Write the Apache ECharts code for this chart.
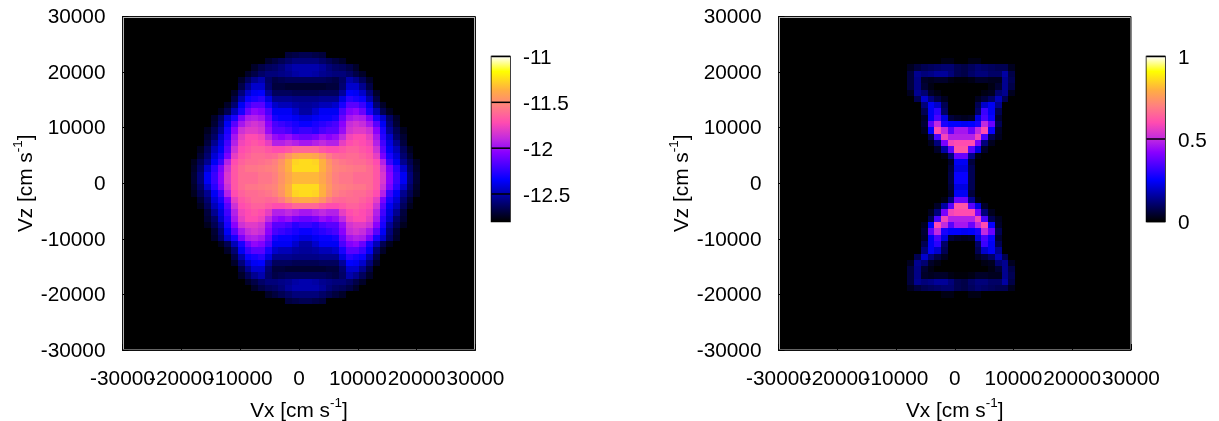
<!DOCTYPE html>
<html><head><meta charset="utf-8">
<style>html,body{margin:0;padding:0;background:#fff}#c{width:1219px;height:421px}</style>
<script src="https://cdn.jsdelivr.net/npm/echarts@6/dist/echarts.min.js"></script>
</head><body><div id="c"></div>
<script>
// phase-space cells, in percent of each colour-bar range
const levelsLeft = [
[0,0,0,0,0,0,0,0,0,0,0,0,0,0,6,7,8,8,7,6,0,0,0,0,0,0,0,0,0,0,0,0,0,0],
[0,0,0,0,0,0,0,0,0,0,0,4,6,8,10,12,12,12,12,10,8,6,4,0,0,0,0,0,0,0,0,0,0,0],
[0,0,0,0,0,0,0,0,0,4,7,9,10,12,15,17,17,17,17,15,12,10,9,7,4,0,0,0,0,0,0,0,0,0],
[0,0,0,0,0,0,0,0,4,7,10,12,12,13,14,16,17,17,16,14,13,12,12,10,7,4,0,0,0,0,0,0,0,0],
[0,0,0,0,0,0,0,4,9,14,17,10,7,8,9,9,9,9,9,9,8,7,10,17,14,9,4,0,0,0,0,0,0,0],
[0,0,0,0,0,0,0,7,14,20,20,11,6,6,5,5,5,5,5,5,6,6,11,20,20,14,7,0,0,0,0,0,0,0],
[0,0,0,0,0,0,4,12,20,24,25,15,9,9,9,8,8,8,8,9,9,9,15,25,24,20,12,4,0,0,0,0,0,0],
[0,0,0,0,0,0,7,17,26,28,30,22,14,14,14,13,13,13,13,14,14,14,22,30,28,26,17,7,0,0,0,0,0,0],
[0,0,0,0,0,4,11,24,32,36,36,28,20,18,18,16,15,15,16,18,18,20,28,36,36,32,24,11,4,0,0,0,0,0],
[0,0,0,0,3,8,18,28,38,43,41,34,24,24,24,20,16,16,20,24,24,24,34,41,43,38,28,18,8,3,0,0,0,0],
[0,0,0,4,10,20,28,40,47,48,46,38,28,26,26,24,22,22,24,26,26,28,38,46,48,47,40,28,20,10,4,0,0,0],
[0,0,0,5,12,24,36,46,51,53,51,42,34,32,30,28,26,26,28,30,32,34,42,51,53,51,46,36,24,12,5,0,0,0],
[0,0,3,8,15,28,42,52,55,55,53,44,36,36,34,30,32,32,30,34,36,36,44,53,55,55,52,42,28,15,8,3,0,0],
[0,0,5,10,20,30,46,56,60,60,58,50,44,42,44,40,38,38,40,44,42,44,50,58,60,60,56,46,30,20,10,5,0,0],
[0,0,6,14,22,33,48,58,60,62,60,56,48,48,50,48,46,46,48,50,48,48,56,60,62,60,58,48,33,22,14,6,0,0],
[0,3,9,18,24,36,52,60,62,64,64,62,60,60,62,65,65,65,65,62,60,60,62,64,64,62,60,52,36,24,18,9,3,0],
[0,5,11,21,28,40,56,62,64,66,66,65,66,69,74,78,79,79,78,74,69,66,65,66,66,64,62,56,40,28,21,11,5,0],
[3,8,14,24,32,48,60,64,66,66,67,68,70,74,80,85,86,86,85,80,74,70,68,67,66,66,64,60,48,32,24,14,8,3],
[4,10,20,30,40,52,62,66,68,68,69,70,71,75,80,86,86,86,86,80,75,71,70,69,68,68,66,62,52,40,30,20,10,4],
[5,12,24,32,42,54,62,66,66,66,68,68,70,74,78,81,81,81,81,78,74,70,68,68,66,66,66,62,54,42,32,24,12,5],
[5,12,24,32,42,54,62,66,66,66,68,68,70,74,78,81,81,81,81,78,74,70,68,68,66,66,66,62,54,42,32,24,12,5],
[4,10,20,30,40,52,62,66,68,68,69,70,71,75,80,86,86,86,86,80,75,71,70,69,68,68,66,62,52,40,30,20,10,4],
[3,8,14,24,32,48,60,64,66,66,67,68,70,74,80,85,86,86,85,80,74,70,68,67,66,66,64,60,48,32,24,14,8,3],
[0,5,11,21,28,40,56,62,64,66,66,65,66,69,74,78,79,79,78,74,69,66,65,66,66,64,62,56,40,28,21,11,5,0],
[0,3,9,18,24,36,52,60,62,64,64,62,60,60,62,65,65,65,65,62,60,60,62,64,64,62,60,52,36,24,18,9,3,0],
[0,0,6,14,22,33,48,58,60,62,60,56,48,48,50,48,46,46,48,50,48,48,56,60,62,60,58,48,33,22,14,6,0,0],
[0,0,5,10,20,30,46,56,60,60,58,50,44,42,44,40,38,38,40,44,42,44,50,58,60,60,56,46,30,20,10,5,0,0],
[0,0,3,8,15,28,42,52,55,55,53,44,36,36,34,30,32,32,30,34,36,36,44,53,55,55,52,42,28,15,8,3,0,0],
[0,0,0,5,12,24,36,46,51,53,51,42,34,32,30,28,26,26,28,30,32,34,42,51,53,51,46,36,24,12,5,0,0,0],
[0,0,0,4,10,20,28,40,47,48,46,38,28,26,26,24,22,22,24,26,26,28,38,46,48,47,40,28,20,10,4,0,0,0],
[0,0,0,0,3,8,18,28,38,43,41,34,24,24,24,20,16,16,20,24,24,24,34,41,43,38,28,18,8,3,0,0,0,0],
[0,0,0,0,0,4,11,24,32,36,36,28,20,18,18,16,15,15,16,18,18,20,28,36,36,32,24,11,4,0,0,0,0,0],
[0,0,0,0,0,0,7,17,26,28,30,22,14,14,14,13,13,13,13,14,14,14,22,30,28,26,17,7,0,0,0,0,0,0],
[0,0,0,0,0,0,4,12,20,24,25,15,9,9,9,8,8,8,8,9,9,9,15,25,24,20,12,4,0,0,0,0,0,0],
[0,0,0,0,0,0,0,7,14,20,20,11,6,6,5,5,5,5,5,5,6,6,11,20,20,14,7,0,0,0,0,0,0,0],
[0,0,0,0,0,0,0,4,9,14,17,10,7,8,9,9,9,9,9,9,8,7,10,17,14,9,4,0,0,0,0,0,0,0],
[0,0,0,0,0,0,0,0,4,7,10,12,12,13,14,16,17,17,16,14,13,12,12,10,7,4,0,0,0,0,0,0,0,0],
[0,0,0,0,0,0,0,0,0,4,7,9,10,12,15,17,17,17,17,15,12,10,9,7,4,0,0,0,0,0,0,0,0,0],
[0,0,0,0,0,0,0,0,0,0,0,4,6,8,10,12,12,12,12,10,8,6,4,0,0,0,0,0,0,0,0,0,0,0],
[0,0,0,0,0,0,0,0,0,0,0,0,0,0,6,7,8,8,7,6,0,0,0,0,0,0,0,0,0,0,0,0,0,0]
];
const levelsRight = [
[0,0,0,0,0,0,0,0,0,0,0,0,0,0,0,0],
[0,0,0,0,0,2,2,0,0,2,2,0,0,0,0,0],
[3,6,8,9,10,11,11,8,7,9,11,10,9,8,8,3],
[6,14,12,13,15,15,12,8,7,10,12,12,10,10,16,7],
[6,13,4,3,4,4,2,1,1,2,4,4,3,3,14,8],
[6,13,5,2,0,0,0,0,0,0,0,0,2,5,14,7],
[3,14,11,4,2,0,0,0,0,0,0,2,3,11,14,3],
[0,8,20,12,7,3,0,0,0,0,3,6,10,18,8,0],
[0,0,12,24,20,8,0,0,0,0,8,20,24,14,0,0],
[0,0,8,24,30,10,0,0,0,0,10,32,24,8,0,0],
[0,0,4,24,34,22,6,4,3,4,22,34,26,5,0,0],
[0,0,5,36,50,28,25,25,24,25,28,50,38,8,0,0],
[0,0,3,25,60,50,36,46,46,38,50,60,26,4,0,0],
[0,0,0,8,34,58,48,48,48,48,58,34,8,3,0,0],
[0,0,0,3,12,40,58,60,60,60,40,12,3,0,0,0],
[0,0,0,0,4,16,36,62,62,36,22,4,0,0,0,0],
[0,0,0,0,0,2,12,38,38,14,2,0,0,0,0,0],
[0,0,0,0,0,0,4,24,24,6,0,0,0,0,0,0],
[0,0,0,0,0,0,6,22,22,8,0,0,0,0,0,0],
[0,0,0,0,0,0,7,26,26,8,0,0,0,0,0,0],
[0,0,0,0,0,0,7,26,26,8,0,0,0,0,0,0],
[0,0,0,0,0,0,6,22,22,8,0,0,0,0,0,0],
[0,0,0,0,0,0,4,24,24,6,0,0,0,0,0,0],
[0,0,0,0,0,2,12,38,38,14,2,0,0,0,0,0],
[0,0,0,0,4,16,36,62,62,36,22,4,0,0,0,0],
[0,0,0,3,12,40,58,60,60,60,40,12,3,0,0,0],
[0,0,0,8,34,58,48,48,48,48,58,34,8,3,0,0],
[0,0,3,25,60,50,36,46,46,38,50,60,26,4,0,0],
[0,0,5,36,50,28,25,25,24,25,28,50,38,8,0,0],
[0,0,4,24,34,22,6,4,3,4,22,34,26,5,0,0],
[0,0,8,24,30,10,0,0,0,0,10,32,24,8,0,0],
[0,0,12,24,20,8,0,0,0,0,8,20,24,14,0,0],
[0,8,20,12,7,3,0,0,0,0,3,6,10,18,8,0],
[3,14,11,4,2,0,0,0,0,0,0,2,3,11,14,3],
[6,13,5,2,0,0,0,0,0,0,0,0,2,5,14,7],
[6,13,4,3,4,4,2,1,1,2,4,4,3,3,14,8],
[6,14,12,13,15,15,12,8,7,10,12,12,10,10,16,7],
[3,6,8,9,10,11,11,8,7,9,11,10,9,8,8,3],
[0,0,0,0,0,2,2,0,0,2,2,0,0,0,0,0],
[0,0,0,0,0,0,0,0,0,0,0,0,0,0,0,0]
];
const axisTicks = [-30000,-20000,-10000,0,10000,20000,30000];
const axisTickLabels = ['-30000','-20000','-10000','0','10000','20000','30000'];
const barTicksLeft = [-12.5,-12,-11.5,-11];
const barTicksRight = [0,0.5,1];
const barRangeLeft = [-12.8,-11];
const barRangeRight = [0,1];
const cellWidth = 1147, cellHeight = 1135;
const leftStartX = -18400, rightStartX = -8077, startY = 23670;
const imageEdge = 29800;
const paletteStops = [[0,'#000000'],[25,'#0000ff'],[42,'#8a00ff'],[50,'#c02ae0'],[60,'#ff4cb0'],[70,'#ff8080'],[80,'#ffb040'],[91,'#ffff00'],[100,'#ffffff']];

function hex(c){return [1,3,5].map(i=>parseInt(c.substr(i,2),16));}
function colorOf(l){
  for(let i=1;i<paletteStops.length;i++){
    const [a,ca]=paletteStops[i-1],[b,cb]=paletteStops[i];
    if(l<=b){const t=(l-a)/(b-a),A=hex(ca),B=hex(cb);
      return 'rgb('+A.map((v,k)=>Math.round(v+(B[k]-v)*t)).join(',')+')';}
  }
  return '#fff';
}
function cells(rows,x0){
  const out=[[-imageEdge,imageEdge,imageEdge,-imageEdge,0]];
  rows.forEach((r,j)=>r.forEach((v,i)=>{ if(v>0) out.push([x0+i*cellWidth,x0+(i+1)*cellWidth,startY-j*cellHeight,startY-(j+1)*cellHeight,v]); }));
  return out;
}
function renderCell(params,api){
  const a=api.coord([api.value(0),api.value(2)]),b=api.coord([api.value(1),api.value(3)]);
  const x=Math.round(a[0]),y=Math.round(a[1]);
  return {type:'rect',shape:{x:x,y:y,width:Math.round(b[0])-x,height:Math.round(b[1])-y},style:{fill:colorOf(api.value(4))}};
}
function renderBar(params,api){
  const a=api.coord([0,api.value(1)]),b=api.coord([1,api.value(0)]);
  return {type:'rect',shape:{x:a[0],y:a[1],width:b[0]-a[0],height:b[1]-a[1]},
    style:{fill:new echarts.graphic.LinearGradient(0,1,0,0,paletteStops.map(s=>({offset:s[0]/100,color:s[1]})))}};
}
function renderBarTick(params,api){
  const a=api.coord([0,api.value(0)]),b=api.coord([1,api.value(0)]);
  return {type:'line',shape:{x1:a[0],y1:a[1],x2:b[0],y2:b[1]},style:{stroke:'#000',lineWidth:1.5}};
}
const FONT='"Liberation Sans",Arial,sans-serif', FS=20.8;
const rich={a:{fontFamily:FONT,fontSize:FS,color:'#000',lineHeight:26,verticalAlign:'bottom'},
            b:{fontFamily:FONT,fontSize:13.5,color:'#000',lineHeight:26,verticalAlign:'top'}};
const label={fontFamily:FONT,fontSize:FS,color:'#000'};
const tickRich={t:{fontFamily:FONT,fontSize:FS,color:'#000',padding:[2,0,0,0]},
                u:{fontFamily:FONT,fontSize:FS,color:'#000',padding:[4,0,0,0]}};
function plotAxes(i){
  return {
    x:{gridIndex:i,type:'value',min:-30000,max:30000,interval:10000,splitLine:{show:false},
       axisLine:{show:true,onZero:false,lineStyle:{color:'#111',width:1}},
       axisTick:{show:true,inside:true,length:6,lineStyle:{color:'#000'}},
       axisLabel:{show:false},
       name:'{a|Vx [cm s}{b|-1}{a|]}',nameLocation:'middle',nameGap:46,nameTextStyle:{rich}},
    xl:{gridIndex:i,type:'category',position:'bottom',data:axisTickLabels,boundaryGap:false,
       axisLine:{show:false},axisTick:{show:false},splitLine:{show:false},
       axisLabel:Object.assign({interval:0,margin:19,hideOverlap:false,showMinLabel:true,showMaxLabel:true},label)},
    y:{gridIndex:i,type:'value',min:-30000,max:30000,interval:10000,splitLine:{show:false},
       axisLine:{show:true,onZero:false,lineStyle:{color:'#111',width:1}},
       axisTick:{show:true,inside:true,length:6,lineStyle:{color:'#000'}},
       axisLabel:Object.assign({margin:17,showMinLabel:true,showMaxLabel:true,rich:tickRich,formatter:v=>'{t|'+v+'}'},label),
       name:'{a|Vz [cm s}{b|-1}{a|]}',nameLocation:'middle',nameGap:76,nameRotate:90,nameTextStyle:{rich}}
  };
}
function barAxes(i,range,ticks){
  return {
    x:{gridIndex:i,type:'value',min:0,max:1,show:false},
    y:{gridIndex:i,type:'value',position:'right',min:range[0],max:range[1],splitLine:{show:false},
       axisLine:{show:true,lineStyle:{color:'#000',width:1}},
       axisTick:{show:false},
       axisLabel:Object.assign({margin:13,showMinLabel:true,showMaxLabel:true,customValues:ticks,rich:tickRich,formatter:v=>'{u|'+v+'}'},label)}
  };
}
const P0=plotAxes(0),P1=plotAxes(1),B0=barAxes(2,barRangeLeft,barTicksLeft),B1=barAxes(3,barRangeRight,barTicksRight);
const gridStyle={show:true,backgroundColor:'#b5b5b5',borderColor:'#111',borderWidth:1,outerBoundsMode:'none'};
const barGrid={show:true,backgroundColor:'#fff',borderColor:'#000',borderWidth:1.5,outerBoundsMode:'none'};
const chart=echarts.init(document.getElementById('c'),null,{renderer:'canvas'});
chart.setOption({
  animation:false,backgroundColor:'#fff',
  grid:[
    Object.assign({left:122.5,top:16.5,width:353,height:333.5},gridStyle),
    Object.assign({left:778.5,top:16.5,width:352.5,height:333.5},gridStyle),
    Object.assign({left:491.5,top:56.5,width:18.5,height:165},barGrid),
    Object.assign({left:1146.5,top:56.5,width:18.5,height:165},barGrid)
  ],
  xAxis:[P0.x,P1.x,B0.x,B1.x,P0.xl,P1.xl],
  yAxis:[P0.y,P1.y,B0.y,B1.y],
  series:[
    {type:'custom',xAxisIndex:0,yAxisIndex:0,renderItem:renderCell,data:cells(levelsLeft,leftStartX),silent:true},
    {type:'custom',xAxisIndex:1,yAxisIndex:1,renderItem:renderCell,data:cells(levelsRight,rightStartX),silent:true},
    {type:'custom',xAxisIndex:2,yAxisIndex:2,renderItem:renderBar,data:[barRangeLeft],silent:true},
    {type:'custom',xAxisIndex:3,yAxisIndex:3,renderItem:renderBar,data:[barRangeRight],silent:true},
    {type:'custom',xAxisIndex:2,yAxisIndex:2,renderItem:renderBarTick,data:barTicksLeft.map(v=>[v]),silent:true,z:3},
    {type:'custom',xAxisIndex:3,yAxisIndex:3,renderItem:renderBarTick,data:barTicksRight.map(v=>[v]),silent:true,z:3}
  ]
});
</script></body></html>
